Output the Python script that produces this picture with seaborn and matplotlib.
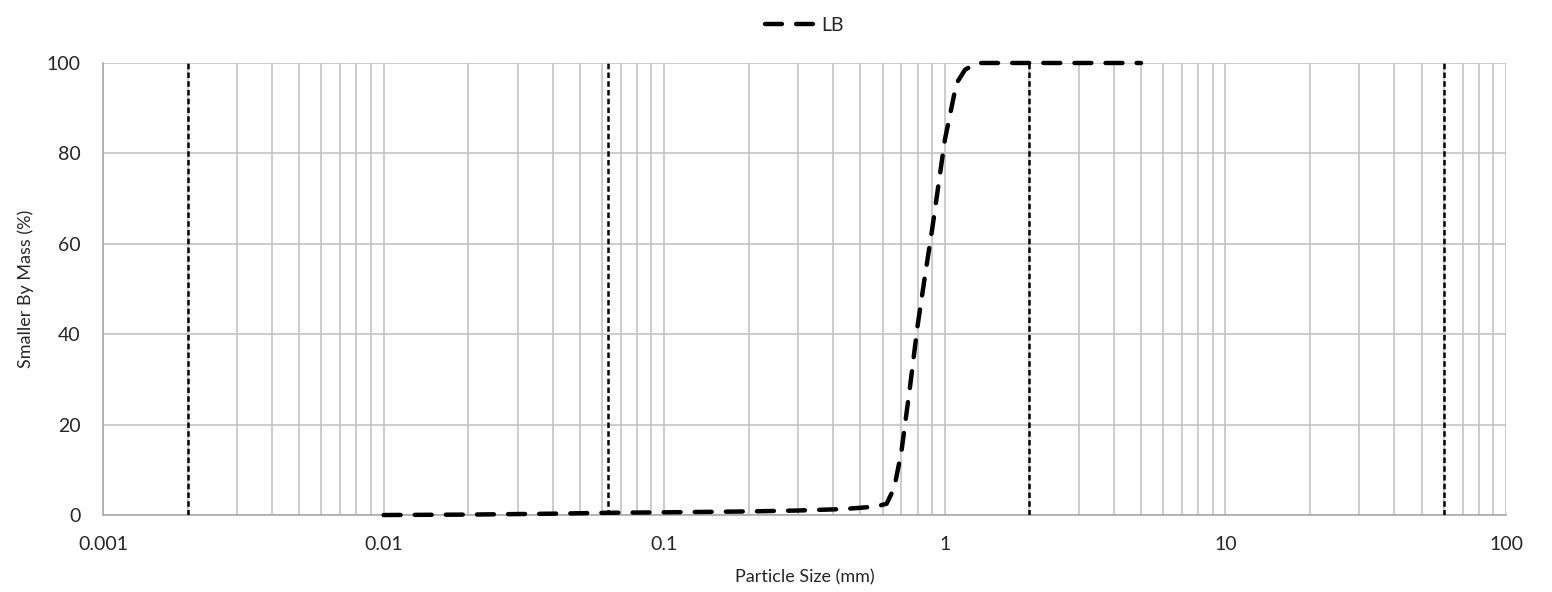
import matplotlib
matplotlib.use("Agg")
import matplotlib.pyplot as plt
import seaborn as sns
import pandas as pd
from matplotlib.ticker import LogLocator, FixedLocator, NullFormatter

# Particle size distribution for sample LB
particle_size_mm = [0.01, 0.02, 0.04, 0.063, 0.1, 0.2, 0.3, 0.425, 0.5, 0.57,
                    0.62, 0.66, 0.7, 0.75, 0.8, 0.85, 0.9, 1.0, 1.1, 1.18, 1.3, 2.0, 5.0]
percent_passing = [0.0, 0.1, 0.3, 0.5, 0.6, 0.8, 1.0, 1.3, 1.6, 1.9,
                   2.5, 6.0, 14.0, 28.0, 42.0, 53.0, 63.0, 83.0, 95.5, 98.5, 100.0, 100.0, 100.0]
series_name = "LB"

# Size class boundaries (clay / silt / sand / gravel / cobble)
boundaries_mm = [0.002, 0.063, 2.0, 60.0]

x_ticks = [0.001, 0.01, 0.1, 1, 10, 100]
x_tick_labels = ["0.001", "0.01", "0.1", "1", "10", "100"]
y_ticks = [0, 20, 40, 60, 80, 100]

sns.set_style("white")
plt.rcParams["font.family"] = ["Lato", "DejaVu Sans"]

df = pd.DataFrame({"size": particle_size_mm, "passing": percent_passing, "sample": series_name})

fig = plt.figure(figsize=(15.52, 5.92), dpi=100)
ax = fig.add_axes([0.0664, 0.130, 0.9040, 0.7636])

grid_col = "#bfbfbf"
ax.set_xscale("log")

for b in boundaries_mm:
    ax.axvline(b, color="black", linewidth=1.8, dashes=(2.2, 1.3), zorder=3)

curve_dash = (3.8, 3.2)
sns.lineplot(data=df, x="size", y="passing", hue="sample", style="sample",
             palette=["black"], dashes={series_name: curve_dash},
             linewidth=3.2, ax=ax, zorder=4, sort=False)
for ln in ax.get_lines():
    if ln.get_linewidth() > 3:
        ln.set_dash_capstyle("round")
        ln.set_clip_on(False)

ax.set_xlim(0.001, 100)
ax.set_ylim(0, 100)
ax.xaxis.set_major_locator(FixedLocator(x_ticks))
ax.set_xticklabels(x_tick_labels)
ax.xaxis.set_minor_locator(LogLocator(base=10, subs=range(2, 10)))
ax.xaxis.set_minor_formatter(NullFormatter())
ax.set_yticks(y_ticks)

ax.grid(True, which="major", axis="both", color=grid_col, linewidth=1.1)
ax.grid(True, which="minor", axis="x", color=grid_col, linewidth=1.1)
ax.set_axisbelow(True)

for s in ["top", "right"]:
    ax.spines[s].set_visible(False)
for s in ["left", "bottom"]:
    ax.spines[s].set_color("#a6a6a6")
    ax.spines[s].set_linewidth(1.1)

ax.tick_params(axis="x", which="major", length=5, color="#a6a6a6", width=1.1, labelsize=14, pad=10)
ax.tick_params(axis="x", which="minor", length=0)
ax.tick_params(axis="y", length=0, labelsize=14, pad=16)

ax.set_xlabel("Particle Size (mm)", fontsize=13, labelpad=12)
ax.set_ylabel("Smaller By Mass (%)", fontsize=13, labelpad=9)

handles, labels = ax.get_legend_handles_labels()
for h in handles:
    h.set_dashes(curve_dash)
    h.set_linewidth(3.2)
    h.set_color("black")
ax.legend(handles, labels, loc="lower center", bbox_to_anchor=(0.5, 1.025), frameon=False,
          fontsize=14, handlelength=2.5, handletextpad=0.4)

fig.savefig("out.png", dpi=100)
